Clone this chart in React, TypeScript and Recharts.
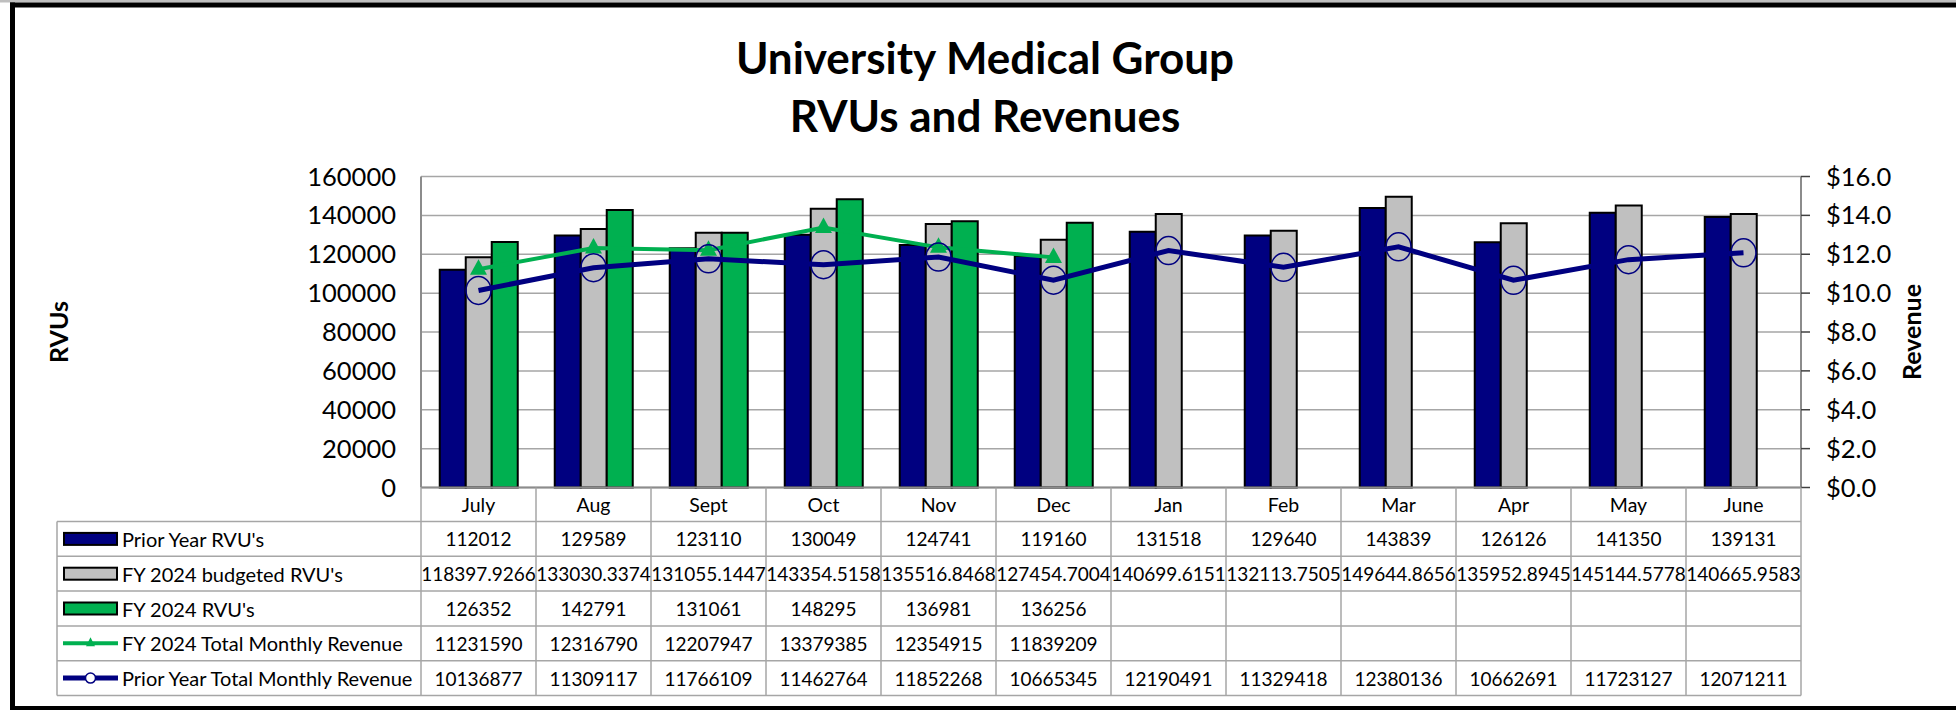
import React from "react";
import { ComposedChart, Bar, Line, XAxis, YAxis, CartesianGrid } from "recharts";

const months = ["July", "Aug", "Sept", "Oct", "Nov", "Dec", "Jan", "Feb", "Mar", "Apr", "May", "June"];
const priorYearRvus = [112012, 129589, 123110, 130049, 124741, 119160, 131518, 129640, 143839, 126126, 141350, 139131];
const budgetedRvus = [
  118397.9266, 133030.3374, 131055.1447, 143354.5158, 135516.8468, 127454.7004,
  140699.6151, 132113.7505, 149644.8656, 135952.8945, 145144.5778, 140665.9583,
];
const fy2024Rvus = [126352, 142791, 131061, 148295, 136981, 136256, null, null, null, null, null, null];
const fy2024Revenue = [11231590, 12316790, 12207947, 13379385, 12354915, 11839209, null, null, null, null, null, null];
const priorYearRevenue = [
  10136877, 11309117, 11766109, 11462764, 11852268, 10665345,
  12190491, 11329418, 12380136, 10662691, 11723127, 12071211,
];
const rvuTicks = [0, 20000, 40000, 60000, 80000, 100000, 120000, 140000, 160000];
const revenueTicks = [0, 2000000, 4000000, 6000000, 8000000, 10000000, 12000000, 14000000, 16000000];

const NAVY = "#000080";
const GRAY = "#C0C0C0";
const GREEN = "#00B050";
const GRID = "#A6A6A6";
const FONT = "Lato, 'Open Sans', sans-serif";

// layout (px)
const W = 1956;
const H = 710;
const PLOT_L = 421;
const PLOT_R = 1801;
const PLOT_T = 176.5;
const PLOT_B = 487.5;
const HEADER_B = 521.5;
const ROW_H = 34.8;
const TABLE_L = 57;
const COL_W = (PLOT_R - PLOT_L) / months.length;

const chartData = months.map((m, i) => ({
  month: m,
  prior: priorYearRvus[i],
  budget: budgetedRvus[i],
  fy: fy2024Rvus[i],
  fyRev: fy2024Revenue[i],
  priorRev: priorYearRevenue[i],
}));

const rows = [
  { name: "Prior Year RVU's", kind: "bar", color: NAVY, values: priorYearRvus },
  { name: "FY 2024 budgeted RVU's", kind: "bar", color: GRAY, values: budgetedRvus },
  { name: "FY 2024 RVU's", kind: "bar", color: GREEN, values: fy2024Rvus },
  { name: "FY 2024 Total Monthly Revenue", kind: "tri", color: GREEN, values: fy2024Revenue },
  { name: "Prior Year Total Monthly Revenue", kind: "circle", color: NAVY, values: priorYearRevenue },
];

const TriangleDot = (p: any) => {
  const { cx, cy, index } = p;
  if (cx == null || cy == null) return <g key={`tri-${index}`} />;
  return (
    <polygon
      key={`tri-${index}`}
      points={`${cx},${cy - 10} ${cx - 8.5},${cy + 5.5} ${cx + 8.5},${cy + 5.5}`}
      fill={GREEN}
    />
  );
};

const CircleDot = (p: any) => {
  const { cx, cy, index } = p;
  if (cx == null || cy == null) return <g key={`cir-${index}`} />;
  return <ellipse key={`cir-${index}`} cx={cx} cy={cy} rx={12.5} ry={14} fill="none" stroke={NAVY} strokeWidth={1.5} />;
};

const MonthTick = (p: any) => (
  <text x={p.x} y={(PLOT_B + HEADER_B) / 2} textAnchor="middle" dominantBaseline="central"
    fontFamily={FONT} fontSize={19.5} fill="#000">
    {p.payload.value}
  </text>
);

function LegendSymbol({ kind, color, cy }: { kind: string; color: string; cy: number }) {
  if (kind === "bar") {
    return <rect x={64} y={cy - 6} width={53} height={12} fill={color} stroke="#000" strokeWidth={2} />;
  }
  return (
    <g>
      <line x1={63} x2={118} y1={cy} y2={cy} stroke={color} strokeWidth={kind === "tri" ? 4 : 5} />
      {kind === "tri" ? (
        <polygon points={`90.5,${cy - 6} ${86},${cy + 3} ${95},${cy + 3}`} fill={color} />
      ) : (
        <circle cx={90.5} cy={cy} r={5} fill="#fff" stroke={color} strokeWidth={1.5} />
      )}
    </g>
  );
}

export default function App() {
  const tableBottom = HEADER_B + ROW_H * rows.length;
  return (
    <div style={{ position: "absolute", left: 0, top: 0, width: W, height: H, background: "#fff", overflow: "hidden" }}>
      <div style={{ position: "absolute", left: 0, top: 0 }}>
        <ComposedChart
          width={W}
          height={H}
          data={chartData}
          margin={{ top: PLOT_T, right: 0, bottom: 0, left: 0 }}
          barCategoryGap="16.3%"
          barGap={0}
        >
          <CartesianGrid yAxisId="left" vertical={false} stroke={GRID} strokeWidth={1.5} />
          <XAxis
            dataKey="month"
            height={H - PLOT_B}
            axisLine={{ stroke: "#8C8C8C", strokeWidth: 2 }}
            tickLine={false}
            tick={MonthTick}
            interval={0}
          />
          <YAxis
            yAxisId="left"
            width={PLOT_L}
            domain={[0, 160000]}
            ticks={rvuTicks}
            interval={0}
            axisLine={{ stroke: "#8C8C8C", strokeWidth: 2 }}
            tickLine={false}
            tickSize={0}
            tickMargin={25}
            tick={{ fontFamily: FONT, fontSize: 25.5, fill: "#000" }}
            label={{
              value: "RVUs",
              angle: -90,
              position: "insideLeft",
              offset: 59,
              style: { textAnchor: "middle", fontFamily: FONT, fontWeight: 700, fontSize: 25, fill: "#000" },
            }}
          />
          <YAxis
            yAxisId="right"
            orientation="right"
            width={W - PLOT_R}
            domain={[0, 16000000]}
            ticks={revenueTicks}
            interval={0}
            axisLine={{ stroke: "#8C8C8C", strokeWidth: 2 }}
            tickLine={{ stroke: "#404040", strokeWidth: 1.5 }}
            tickSize={9}
            tickMargin={16}
            tickFormatter={(v: number) => `$${(v / 1000000).toFixed(1)}`}
            tick={{ fontFamily: FONT, fontSize: 25.5, fill: "#000" }}
            label={{
              value: "Revenue",
              angle: -90,
              position: "insideRight",
              offset: 44,
              style: { textAnchor: "middle", fontFamily: FONT, fontWeight: 700, fontSize: 25, fill: "#000" },
            }}
          />
          <Bar yAxisId="left" dataKey="prior" fill={NAVY} stroke="#000" strokeWidth={2} isAnimationActive={false} />
          <Bar yAxisId="left" dataKey="budget" fill={GRAY} stroke="#000" strokeWidth={2} isAnimationActive={false} />
          <Bar yAxisId="left" dataKey="fy" fill={GREEN} stroke="#000" strokeWidth={2} isAnimationActive={false} />
          <Line
            yAxisId="right"
            dataKey="fyRev"
            stroke={GREEN}
            strokeWidth={4}
            dot={TriangleDot}
            activeDot={false}
            isAnimationActive={false}
          />
          <Line
            yAxisId="right"
            dataKey="priorRev"
            stroke={NAVY}
            strokeWidth={5}
            dot={CircleDot}
            activeDot={false}
            isAnimationActive={false}
          />
        </ComposedChart>
      </div>

      <svg width={W} height={H} style={{ position: "absolute", left: 0, top: 0, pointerEvents: "none" }}>
        {/* frame */}
        <rect x={0} y={0} width={W} height={2.5} fill="#BFBFBF" />
        <rect x={10} y={2.5} width={W - 10} height={5} fill="#000" />
        <rect x={10} y={2.5} width={5} height={H} fill="#000" />
        <rect x={10} y={706} width={W - 10} height={5} fill="#000" />

        {/* title */}
        <text x={985} y={74} textAnchor="middle" fontFamily={FONT} fontWeight={700} fontSize={44} fill="#000">
          University Medical Group
        </text>
        <text x={985} y={132} textAnchor="middle" fontFamily={FONT} fontWeight={700} fontSize={44} fill="#000">
          RVUs and Revenues
        </text>

        {/* data table grid */}
        {months.map((_, i) => (
          <line key={`v${i}`} x1={PLOT_L + COL_W * i} x2={PLOT_L + COL_W * i} y1={PLOT_B} y2={tableBottom}
            stroke={GRID} strokeWidth={1.5} />
        ))}
        <line x1={PLOT_R} x2={PLOT_R} y1={PLOT_B} y2={tableBottom} stroke={GRID} strokeWidth={1.5} />
        <line x1={TABLE_L} x2={TABLE_L} y1={HEADER_B} y2={tableBottom} stroke={GRID} strokeWidth={1.5} />
        {rows.map((_, k) => (
          <line key={`h${k}`} x1={TABLE_L} x2={PLOT_R} y1={HEADER_B + ROW_H * k} y2={HEADER_B + ROW_H * k}
            stroke={GRID} strokeWidth={1.5} />
        ))}
        <line x1={TABLE_L} x2={PLOT_R} y1={tableBottom} y2={tableBottom} stroke={GRID} strokeWidth={1.5} />

        {rows.map((r, k) => {
          const cy = HEADER_B + ROW_H * (k + 0.5);
          return (
            <g key={r.name}>
              <LegendSymbol kind={r.kind} color={r.color} cy={cy} />
              <text x={122} y={cy} dominantBaseline="central" fontFamily={FONT} fontSize={20} fill="#000">
                {r.name}
              </text>
              {r.values.map((v, i) =>
                v == null ? null : (
                  <text key={i} x={PLOT_L + COL_W * (i + 0.5)} y={cy} textAnchor="middle" dominantBaseline="central"
                    fontFamily={FONT} fontSize={19} fill="#000">
                    {String(v)}
                  </text>
                )
              )}
            </g>
          );
        })}
      </svg>
    </div>
  );
}
